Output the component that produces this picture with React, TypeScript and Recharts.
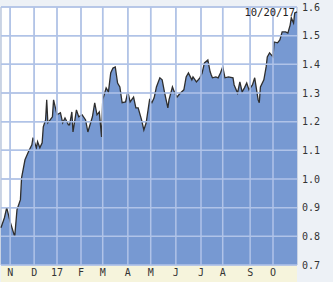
import { AreaChart, Area, XAxis, YAxis, CartesianGrid, ReferenceLine } from 'recharts';

// trading-day index (0 = start of window) and closing value
const days = [
  0, 3, 5, 8, 12, 14, 17, 18, 21, 24,
  27, 28, 31, 32, 34, 36, 37, 39, 40, 41,
  43, 45, 46, 49, 52, 54, 56, 59, 60, 62,
  63, 66, 68, 71, 74, 76, 80, 82, 84, 86,
  88, 89, 92, 94, 96, 98, 100, 102, 104, 106,
  109, 111, 113, 116, 118, 120, 123, 125, 127, 130,
  132, 134, 136, 139, 141, 143, 146, 147, 150, 152,
  154, 157, 160, 162, 164, 167, 168, 171, 174, 176,
  178, 181, 183, 184, 185, 188, 190, 192, 194, 196,
  199, 203, 204, 207, 209, 211, 213, 215, 217, 220,
  222, 225, 226, 227, 230, 232, 233, 235, 238, 239,
  242, 244, 246, 249, 251, 253, 254, 256, 257, 259,
];

const prices = [
  0.83, 0.865, 0.9, 0.851, 0.799, 0.893, 0.928, 1.004, 1.067, 1.095,
  1.119, 1.144, 1.109, 1.13, 1.109, 1.126, 1.182, 1.206, 1.276, 1.196,
  1.206, 1.217, 1.276, 1.224, 1.231, 1.196, 1.213, 1.189, 1.189, 1.234,
  1.164, 1.241, 1.217, 1.224, 1.206, 1.164, 1.217, 1.266, 1.224, 1.234,
  1.147, 1.276, 1.318, 1.304, 1.37, 1.387, 1.391, 1.335, 1.321, 1.266,
  1.269, 1.304, 1.269, 1.286, 1.248, 1.248, 1.206, 1.171, 1.196, 1.276,
  1.266, 1.283, 1.321, 1.353, 1.346, 1.304, 1.248, 1.276, 1.321, 1.3,
  1.286, 1.3, 1.311, 1.356, 1.37, 1.346, 1.356, 1.339, 1.353, 1.37,
  1.405, 1.415, 1.374, 1.363, 1.353, 1.356, 1.353, 1.37, 1.391, 1.353,
  1.356, 1.353, 1.328, 1.3, 1.339, 1.304, 1.318, 1.335, 1.311, 1.328,
  1.353, 1.276, 1.266, 1.321, 1.346, 1.391, 1.426, 1.44, 1.426, 1.478,
  1.475, 1.485, 1.513, 1.513, 1.509, 1.537, 1.562, 1.544, 1.579, 1.583,
];

const monthTicks = [8, 29, 49, 70, 89, 111, 131, 153, 175, 194, 218, 238];
const monthLabels = ['N', 'D', '17', 'F', 'M', 'A', 'M', 'J', 'J', 'A', 'S', 'O'];
const yTicks = [0.7, 0.8, 0.9, 1.0, 1.1, 1.2, 1.3, 1.4, 1.5, 1.6];
const lastDate = '10/20/17';

const data = days.map((d, i) => ({ day: d, price: prices[i] }));

const FONT = '"DejaVu Sans Mono", monospace';

export default function App() {
  return (
    <div style={{ position: 'absolute', left: 0, top: 0, width: 333, height: 282, background: '#edf1f6' }}>
      <div style={{ position: 'absolute', left: 1, top: 265, width: 296, height: 17, background: '#f6f4dc' }} />
      <div style={{ position: 'absolute', left: 0, top: 0 }}>
        <AreaChart width={333} height={282} data={data} margin={{ top: 7, right: 0, bottom: 0, left: 1 }}>
          <CartesianGrid stroke="#bcc8de" strokeWidth={1.5} fill="#ffffff" />
          <XAxis
            dataKey="day"
            type="number"
            domain={[0, 259]}
            ticks={monthTicks}
            tickFormatter={(v: number) => monthLabels[monthTicks.indexOf(v)]}
            height={17}
            axisLine={false}
            tickLine={false}
            tickSize={0}
            tickMargin={4}
            interval={0}
            tick={{ fill: '#333', fontSize: 10, fontFamily: FONT }}
          />
          <YAxis
            orientation="right"
            domain={[0.7, 1.6]}
            ticks={yTicks}
            tickFormatter={(v: number) => v.toFixed(1)}
            width={36}
            axisLine={false}
            tickLine={false}
            tickSize={3}
            tickMargin={2}
            tick={{ fill: '#333', fontSize: 10, fontFamily: FONT }}
          />
          <Area
            type="linear"
            dataKey="price"
            stroke="#2e2e2e"
            strokeWidth={1.3}
            fill="#7799d2"
            fillOpacity={1}
            isAnimationActive={false}
          />
          {yTicks.map((v) => (
            <ReferenceLine key={`h${v}`} y={v} stroke="#b0c3e8" strokeWidth={1.5} />
          ))}
          {monthTicks.map((v) => (
            <ReferenceLine key={`v${v}`} x={v} stroke="#b0c3e8" strokeWidth={1.5} />
          ))}
        </AreaChart>
      </div>
      <div style={{ position: 'absolute', right: 38, top: 6, fontFamily: FONT, fontSize: 10.5, color: '#222' }}>
        {lastDate}
      </div>
    </div>
  );
}
